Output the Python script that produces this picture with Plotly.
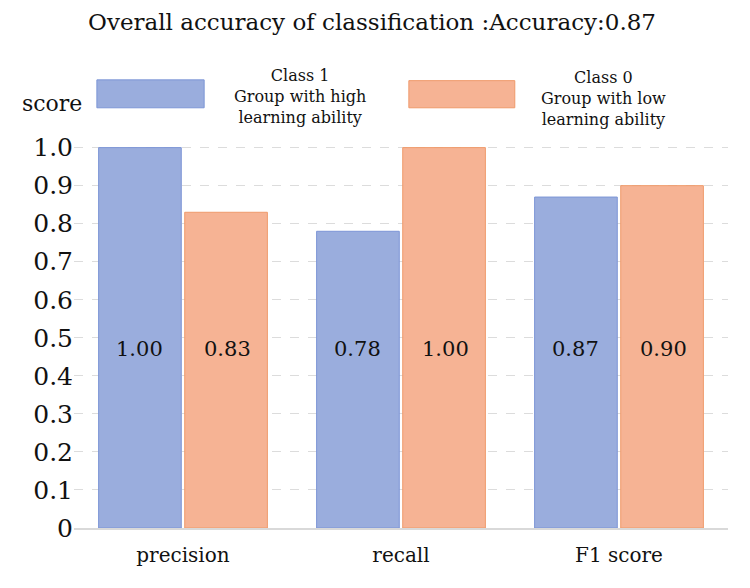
import plotly.graph_objects as go

categories = ["precision", "recall", "F1 score"]
class1_values = [1.00, 0.78, 0.87]
class0_values = [0.83, 1.00, 0.90]
class1_name = "Class 1<br>Group with high<br>learning ability"
class0_name = "Class 0<br>Group with low<br>learning ability"
tick_vals = [0, 0.1, 0.2, 0.3, 0.4, 0.5, 0.6, 0.7, 0.8, 0.9, 1.0]
tick_text = ["0", "0.1", "0.2", "0.3", "0.4", "0.5", "0.6", "0.7", "0.8", "0.9", "1.0"]
title_text = "Overall accuracy of classification :Accuracy:0.87"

SERIF = "DejaVu Serif"
BLUE = "#9AADDD"
BLUE_LINE = "#7C95D6"
ORANGE = "#F6B394"
ORANGE_LINE = "#EF9A6B"

fig = go.Figure()
fig.add_trace(go.Bar(x=categories, y=class1_values, name="Class 1",
                     marker=dict(color=BLUE, line=dict(color=BLUE_LINE, width=1)),
                     showlegend=False, hoverinfo="skip"))
fig.add_trace(go.Bar(x=categories, y=class0_values, name="Class 0",
                     marker=dict(color=ORANGE, line=dict(color=ORANGE_LINE, width=1)),
                     showlegend=False, hoverinfo="skip"))

# value labels at a common height inside the bars
for i, c in enumerate(categories):
    fig.add_annotation(x=c, y=0.47, xref="x", yref="y", text=f"{class1_values[i]:.2f}",
                       showarrow=False, xshift=-44, font=dict(family=SERIF, size=21, color="#111"))
    fig.add_annotation(x=c, y=0.47, xref="x", yref="y", text=f"{class0_values[i]:.2f}",
                       showarrow=False, xshift=44, font=dict(family=SERIF, size=21, color="#111"))

# custom legend
fig.add_shape(type="rect", xref="paper", yref="paper", x0=0.035, x1=0.199, y0=1.083, y1=1.155,
              fillcolor=BLUE, line=dict(color=BLUE_LINE, width=1))
fig.add_shape(type="rect", xref="paper", yref="paper", x0=0.512, x1=0.674, y0=1.083, y1=1.153,
              fillcolor=ORANGE, line=dict(color=ORANGE_LINE, width=1))
fig.add_annotation(xref="paper", yref="paper", x=0.346, y=1.113, xanchor="center", yanchor="middle",
                   text=class1_name, showarrow=False,
                   font=dict(family=SERIF, size=16, color="#111"), align="center")
fig.add_annotation(xref="paper", yref="paper", x=0.809, y=1.108, xanchor="center", yanchor="middle",
                   text=class0_name, showarrow=False,
                   font=dict(family=SERIF, size=16, color="#111"), align="center")
fig.add_annotation(xref="paper", yref="paper", x=-0.083, y=1.095, yanchor="middle", text="score",
                   showarrow=False, xanchor="left", font=dict(family=SERIF, size=22, color="#111"))

fig.update_layout(
    width=750, height=588,
    margin=dict(l=74, r=22, t=140, b=60),
    paper_bgcolor="white", plot_bgcolor="white",
    title=dict(text=title_text, x=0.496, xanchor="center", y=0.962, yanchor="middle",
               font=dict(family=SERIF, size=23, color="#111")),
    barmode="group", bargap=0.21, bargroupgap=0.04,
    font=dict(family=SERIF, color="#111"),
    xaxis=dict(showgrid=False, showline=True, linecolor="#d9d9d9", linewidth=2,
               tickfont=dict(family=SERIF, size=20, color="#111"), ticks="", ticklabelstandoff=8),
    yaxis=dict(range=[0, 1.02], tickvals=tick_vals, ticktext=tick_text,
               showgrid=True, gridcolor="#dcdcdc", griddash="dash", gridwidth=1,
               zeroline=False, showline=False, ticks="",
               tickfont=dict(family=SERIF, size=25, color="#111")),
)

fig.write_html("out.html")
